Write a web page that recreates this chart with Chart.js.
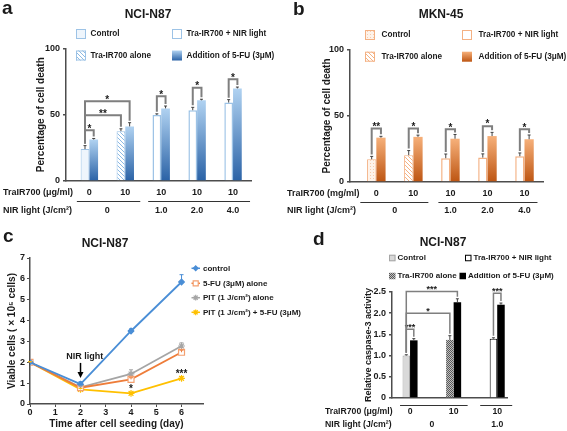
<!DOCTYPE html>
<html>
<head>
<meta charset="utf-8">
<title>Tra-IR700 PIT and 5-FU</title>
<script src="https://cdn.jsdelivr.net/npm/chart.js@4.4.1/dist/chart.umd.min.js"></script>
<style>
  html, body { margin: 0; padding: 0; background: #fff; }
  #fig { position: relative; width: 567px; height: 431px; overflow: hidden; }
  #fig canvas { position: absolute; left: 0; top: 0; }
</style>
</head>
<body>
<div id="fig">
  <canvas id="panelA" width="567" height="431"></canvas>
  <canvas id="panelB" width="567" height="431"></canvas>
  <canvas id="panelC" width="567" height="431"></canvas>
  <canvas id="panelD" width="567" height="431"></canvas>
</div>
<script>
// ---- panel a: NCI-N87, percentage of cell death ----
const doseA = ['0', '10', '10', '10', '10'];
const lightA = ['0', '1.0', '2.0', '4.0'];
const lightGroupsA = [[0, 1], [2, 2], [3, 3], [4, 4]];
const controlA = [24.1, null, null, null, null];
const aloneA = [null, 37.6, null, null, null];
const nirA = [null, null, 49.8, 53.4, 59.2];
const fuA = [31.3, 41.2, 54.8, 60.9, 69.9];
const controlErrA = [2.6, null, null, null, null];
const aloneErrA = [null, 1.8, null, null, null];
const nirErrA = [null, null, 0.9, 2.2, 2.2];
const fuErrA = [0.8, 2.8, 1.8, 0.8, 1.0];

// ---- panel b: MKN-45 ----
const doseB = ['0', '10', '10', '10', '10'];
const lightB = ['0', '1.0', '2.0', '4.0'];
const lightGroupsB = [[0, 1], [2, 2], [3, 3], [4, 4]];
const controlB = [17.2, null, null, null, null];
const aloneB = [null, 20.3, null, null, null];
const nirB = [null, null, 18.0, 18.5, 19.5];
const fuB = [33.6, 34.2, 32.8, 34.8, 32.4];
const controlErrB = [2.2, null, null, null, null];
const aloneErrB = [null, 3.5, null, null, null];
const nirErrB = [null, null, 3.2, 2.8, 2.5];
const fuErrB = [1.0, 1.3, 3.2, 2.8, 3.2];

// ---- panel c: viable cells over time ----
const daysC = [0, 2, 4, 6];
const controlC = [2.0, 0.95, 3.5, 5.85];
const fuC = [2.0, 0.78, 1.18, 2.48];
const pitC = [2.0, 0.8, 1.44, 2.78];
const pitFuC = [2.0, 0.7, 0.51, 1.23];
const controlErrC = [0.03, 0.12, 0.1, 0.35];
const fuErrC = [0.03, 0.04, 0.08, 0.1];
const pitErrC = [0.03, 0.05, 0.2, 0.15];
const pitFuErrC = [0.03, 0.04, 0.05, 0.08];

// ---- panel d: relative caspase-3 activity ----
const doseD = ['0', '10', '10'];
const lightD = ['0', '1.0'];
const lightGroupsD = [[0, 1], [2, 2]];
const controlD = [1.0, null, null];
const aloneD = [null, 1.37, null];
const nirD = [null, null, 1.4];
const fuD = [1.36, 2.26, 2.2];
const controlErrD = [0.02, null, null];
const aloneErrD = [null, 0.1, null];
const nirErrD = [null, null, 0.02];
const fuErrD = [0.04, 0.08, 0.04];

const groupNames = ['Control', 'Tra-IR700 alone', 'Tra-IR700 + NIR light', 'Addition of 5-FU (3μM)'];
const seriesNamesC = ['control', '5-FU (3μM) alone', 'PIT (1 J/cm²) alone', 'PIT (1 J/cm²) + 5-FU (3μM)'];

const FAM = "'Liberation Sans', Arial, Helvetica, sans-serif";
const INK = '#1a1a1a';
const AXIS = '#4d4d4d';
const font = (size) => ({ family: FAM, size: size, weight: 'bold' });

Chart.defaults.font.family = FAM;
Chart.defaults.color = INK;

function label(ctx, str, x, y, size, align, baseline) {
  ctx.font = 'bold ' + size + 'px ' + FAM;
  ctx.fillStyle = INK;
  ctx.textAlign = align || 'left';
  ctx.textBaseline = baseline || 'middle';
  ctx.fillText(str, x, y);
}

// asterisks sit high in the em box, so centre them by hand
function stars(ctx, str, x, yc, size) {
  label(ctx, str, x, yc + size * 0.58, size, 'center', 'alphabetic');
}

function tile(size, paint) {
  const c = document.createElement('canvas');
  c.width = c.height = size;
  const g = c.getContext('2d');
  paint(g, size);
  return g.createPattern(c, 'repeat');
}

function hatch(line, bg) {
  return tile(4, (g, s) => {
    g.fillStyle = bg;
    g.fillRect(0, 0, s, s);
    g.strokeStyle = line;
    g.lineWidth = 1;
    g.beginPath();
    g.moveTo(-1, -1); g.lineTo(s + 1, s + 1);
    g.moveTo(-1, s - 1); g.lineTo(1, s + 1);
    g.moveTo(s - 1, -1); g.lineTo(s + 1, 1);
    g.stroke();
  });
}

function dots(dot, bg) {
  return tile(3, (g, s) => {
    g.fillStyle = bg;
    g.fillRect(0, 0, s, s);
    g.fillStyle = dot;
    g.fillRect(1, 1, 1, 1);
  });
}

function checker(a, b) {
  return tile(2, (g) => {
    g.fillStyle = b;
    g.fillRect(0, 0, 2, 2);
    g.fillStyle = a;
    g.fillRect(0, 0, 1, 1);
    g.fillRect(1, 1, 1, 1);
  });
}

function barGradient(top, bottom) {
  return (c) => {
    const chart = c.chart;
    if (c.raw == null || !chart.chartArea) return bottom;
    const y = chart.scales.y;
    const g = chart.ctx.createLinearGradient(0, y.getPixelForValue(c.raw), 0, y.getPixelForValue(0));
    g.addColorStop(0, top);
    g.addColorStop(1, bottom);
    return g;
  };
}

const blueTheme = {
  fills: ['#eef5fc', hatch('#8dbae4', '#ffffff'), '#ffffff', null],
  borders: ['#9dc3e6', '#9dc3e6', '#9dc3e6', '#2a62a6'],
  widths: [1, 1, 1.5, 0],
  grad: ['#b0d2f1', '#2a62a6']
};
const orangeTheme = {
  fills: [dots('#f8cbad', '#fef3ea'), hatch('#f4b183', '#ffffff'), '#ffffff', null],
  borders: ['#f4b183', '#f4b183', '#f4b183', '#bd5512'],
  widths: [1, 1, 1.5, 0],
  grad: ['#f6b07a', '#bd5512']
};
const greyTheme = {
  fills: ['#d9d9d9', checker('#595959', '#c0c0c0'), '#ffffff', '#000000'],
  borders: ['#a6a6a6', '#7f7f7f', '#000000', '#000000'],
  widths: [1, 0, 1, 0],
  grad: null
};

function barSets(theme, values, errors, catPct) {
  return values.map((vals, k) => {
    const gradient = k === 3 && theme.grad ? theme.grad : null;
    return {
      label: groupNames[k],
      data: vals,
      errors: errors[k],
      gradient: gradient,
      backgroundColor: gradient ? barGradient(gradient[0], gradient[1]) : theme.fills[k],
      borderColor: theme.borders[k],
      borderWidth: theme.widths[k],
      skipNull: true,
      barPercentage: 1,
      categoryPercentage: catPct
    };
  });
}

function barOptions(p) {
  return {
    responsive: false,
    animation: false,
    devicePixelRatio: 1,
    events: [],
    layout: { padding: p.padding },
    scales: {
      x: {
        afterFit: (s) => { s.height = 0; },
        ticks: { display: false },
        grid: { display: false },
        border: { color: AXIS, width: 1.5 }
      },
      y: {
        min: 0,
        max: p.max,
        afterFit: (s) => { s.width = p.yWidth; },
        ticks: { stepSize: p.step, padding: 3, color: INK, font: font(9), callback: p.fmt || ((v) => v) },
        grid: { drawOnChartArea: false, tickLength: 3, color: AXIS, lineWidth: 1.5 },
        border: { color: AXIS, width: 1.5 },
        title: { display: true, text: p.yTitle, color: INK, font: font(p.yTitleSize), padding: 0 }
      }
    },
    plugins: { legend: { display: false }, tooltip: { enabled: false } }
  };
}

function valueOf(raw) {
  return raw !== null && typeof raw === 'object' ? raw.y : raw;
}

function drawErrorBars(chart, o) {
  const ctx = chart.ctx, y = chart.scales.y;
  chart.data.datasets.forEach((ds, di) => {
    if (!ds.errors) return;
    chart.getDatasetMeta(di).data.forEach((el, i) => {
      const v = valueOf(ds.data[i]), e = ds.errors[i];
      if (v == null || !e) return;
      const top = y.getPixelForValue(v + e);
      ctx.save();
      ctx.strokeStyle = ds.errorColor || o.color;
      ctx.lineWidth = o.width;
      ctx.beginPath();
      ctx.moveTo(el.x, el.y);
      ctx.lineTo(el.x, top);
      ctx.moveTo(el.x - o.cap, top);
      ctx.lineTo(el.x + o.cap, top);
      ctx.stroke();
      ctx.restore();
    });
  });
}

function drawBrackets(chart, b) {
  const ctx = chart.ctx, y = chart.scales.y;
  b.items.forEach((it) => {
    const top = y.getPixelForValue(it.level);
    const legs = [it.from, it.to].map(([di, i]) => {
      const ds = chart.data.datasets[di];
      const el = chart.getDatasetMeta(di).data[i];
      const v = ds.data[i] + (ds.errors && ds.errors[i] ? ds.errors[i] : 0);
      return { x: el.x, y: y.getPixelForValue(v) - 2 };
    });
    ctx.save();
    ctx.strokeStyle = '#7f7f7f';
    ctx.lineWidth = b.width;
    ctx.beginPath();
    ctx.moveTo(legs[0].x, legs[0].y);
    ctx.lineTo(legs[0].x, top);
    ctx.lineTo(legs[1].x, top);
    ctx.lineTo(legs[1].x, legs[1].y);
    ctx.stroke();
    stars(ctx, it.text, (legs[0].x + legs[1].x) / 2, top - 4.5, b.size);
    ctx.restore();
  });
}

function drawBarLegend(chart, L) {
  const ctx = chart.ctx;
  L.items.forEach((it) => {
    const ds = chart.data.datasets[it.ds];
    const w = L.box, x0 = it.x, y0 = it.y - w / 2;
    if (ds.gradient) {
      const g = ctx.createLinearGradient(0, y0, 0, y0 + w);
      g.addColorStop(0, ds.gradient[0]);
      g.addColorStop(1, ds.gradient[1]);
      ctx.fillStyle = g;
    } else {
      ctx.fillStyle = ds.backgroundColor;
    }
    ctx.fillRect(x0, y0, w, w);
    if (ds.borderWidth) {
      ctx.strokeStyle = ds.borderColor;
      ctx.lineWidth = 1;
      ctx.strokeRect(x0 + 0.5, y0 + 0.5, w - 1, w - 1);
    }
    label(ctx, ds.label, x0 + w + L.gap, it.y, L.size, 'left');
  });
}

function drawTable(chart, t) {
  const ctx = chart.ctx, x = chart.scales.x;
  const px = (i) => x.getPixelForValue(i);
  t.rows.forEach((r) => {
    label(ctx, r.title, t.titleX, r.y, t.size, 'left');
    r.cells.forEach((c, k) => {
      const span = r.spans ? r.spans[k] : [k, k];
      label(ctx, c, (px(span[0]) + px(span[1])) / 2, r.y, t.size, 'center');
    });
  });
  ctx.strokeStyle = '#333333';
  ctx.lineWidth = 1;
  t.lines.forEach((l) => {
    ctx.beginPath();
    ctx.moveTo(px(l.span[0]) - l.padL, t.lineY + 0.5);
    ctx.lineTo(px(l.span[1]) + l.padR, t.lineY + 0.5);
    ctx.stroke();
  });
}

function drawMarker(ctx, style, x, y, r) {
  ctx.beginPath();
  if (style === 'rectRot') {
    ctx.moveTo(x, y - r); ctx.lineTo(x + r, y); ctx.lineTo(x, y + r); ctx.lineTo(x - r, y);
    ctx.closePath(); ctx.fill(); ctx.stroke();
  } else if (style === 'rect') {
    const h = r * Math.SQRT1_2;
    ctx.rect(x - h, y - h, 2 * h, 2 * h);
    ctx.fill(); ctx.stroke();
  } else {
    for (let k = 0; k < 4; k++) {
      const a = k * Math.PI / 4;
      ctx.moveTo(x - r * Math.cos(a), y - r * Math.sin(a));
      ctx.lineTo(x + r * Math.cos(a), y + r * Math.sin(a));
    }
    ctx.stroke();
  }
}

function panelPlugin(cfg) {
  return {
    id: 'panel' + cfg.id,
    afterLayout(chart) {
      // the bars start a little away from the value axis, as in the original figure
      if (!cfg.shift) return;
      const s = chart.scales.x;
      const a = s.left + cfg.shift[0], b = s.right + cfg.shift[1];
      s._startPixel = a;
      s._endPixel = b;
      s._length = b - a;
    },
    afterDatasetsDraw(chart) {
      if (cfg.errors) drawErrorBars(chart, cfg.errors);
      if (cfg.brackets) drawBrackets(chart, cfg.brackets);
    },
    afterDraw(chart) {
      const ctx = chart.ctx;
      ctx.save();
      (cfg.texts || []).forEach((t) => label(ctx, t.text, t.x, t.y, t.size, t.align, t.baseline));
      if (cfg.legend) drawBarLegend(chart, cfg.legend);
      if (cfg.table) drawTable(chart, cfg.table);
      if (cfg.extra) cfg.extra(chart, ctx);
      ctx.restore();
    }
  };
}

// ---------- panel a ----------
new Chart(document.getElementById('panelA'), {
  type: 'bar',
  data: {
    labels: doseA,
    datasets: barSets(blueTheme, [controlA, aloneA, nirA, fuA],
      [controlErrA, aloneErrA, nirErrA, fuErrA], 0.485)
  },
  options: barOptions({
    padding: { left: 35.7, right: 316, top: 48.5, bottom: 250 },
    max: 100, step: 50, yWidth: 30.3, yTitle: 'Percentage of cell death', yTitleSize: 10
  }),
  plugins: [panelPlugin({
    id: 'A',
    shift: [5.4, 0],
    errors: { color: '#404040', width: 1, cap: 1.5 },
    brackets: { width: 2, size: 10, items: [
      { from: [0, 0], to: [3, 0], level: 38.3, text: '*' },
      { from: [0, 0], to: [1, 1], level: 49.6, text: '**' },
      { from: [0, 0], to: [3, 1], level: 60.2, text: '*' },
      { from: [2, 2], to: [3, 2], level: 64, text: '*' },
      { from: [2, 3], to: [3, 3], level: 70.3, text: '*' },
      { from: [2, 4], to: [3, 4], level: 76.7, text: '*' }
    ] },
    texts: [
      { text: 'a', x: 2, y: 13.5, size: 19, baseline: 'alphabetic' },
      { text: 'NCI-N87', x: 148, y: 15, size: 12, align: 'center' }
    ],
    legend: { box: 10, gap: 4.5, size: 8.2, items: [
      { ds: 0, x: 76, y: 34 }, { ds: 2, x: 172, y: 34 },
      { ds: 1, x: 76, y: 55.5 }, { ds: 3, x: 172, y: 55.5 }
    ] },
    table: {
      titleX: 3, size: 9, lineY: 201,
      rows: [
        { title: 'TraIR700 (μg/ml)', y: 193, cells: doseA },
        { title: 'NIR light (J/cm²)', y: 210.5, cells: lightA, spans: lightGroupsA }
      ],
      lines: [{ span: [0, 1], padL: 12.5, padR: 15 }, { span: [2, 4], padL: 13, padR: 17 }]
    }
  })]
});

// ---------- panel b ----------
new Chart(document.getElementById('panelB'), {
  type: 'bar',
  data: {
    labels: doseB,
    datasets: barSets(orangeTheme, [controlB, aloneB, nirB, fuB],
      [controlErrB, aloneErrB, nirErrB, fuErrB], 0.5)
  },
  options: barOptions({
    padding: { left: 321, right: 24, top: 50, bottom: 249 },
    max: 100, step: 50, yWidth: 29, yTitle: 'Percentage of cell death', yTitleSize: 10
  }),
  plugins: [panelPlugin({
    id: 'B',
    shift: [7.8, 0],
    errors: { color: '#404040', width: 1, cap: 1.5 },
    brackets: { width: 2, size: 10, items: [
      { from: [0, 0], to: [3, 0], level: 40.5, text: '**' },
      { from: [1, 1], to: [3, 1], level: 40.5, text: '*' },
      { from: [2, 2], to: [3, 2], level: 40, text: '*' },
      { from: [2, 3], to: [3, 3], level: 42.3, text: '*' },
      { from: [2, 4], to: [3, 4], level: 40, text: '*' }
    ] },
    texts: [
      { text: 'b', x: 293, y: 15, size: 19, baseline: 'alphabetic' },
      { text: 'MKN-45', x: 441, y: 15, size: 12, align: 'center' }
    ],
    legend: { box: 10, gap: 6.5, size: 8.2, items: [
      { ds: 0, x: 365, y: 35 }, { ds: 2, x: 462, y: 35 },
      { ds: 1, x: 365, y: 56.7 }, { ds: 3, x: 462, y: 56.7 }
    ] },
    table: {
      titleX: 287, size: 9, lineY: 202,
      rows: [
        { title: 'TraIR700 (mg/ml)', y: 194, cells: doseB },
        { title: 'NIR light (J/cm²)', y: 210.7, cells: lightB, spans: lightGroupsB }
      ],
      lines: [{ span: [0, 1], padL: 16, padR: 15 }, { span: [2, 4], padL: 12, padR: 13 }]
    }
  })]
});

// ---------- panel c ----------
const lineSpecs = [
  { values: controlC, errs: controlErrC, color: '#4a8ed6', point: 'rectRot', r: 2.8 },
  { values: fuC, errs: fuErrC, color: '#ee7d3a', point: 'rect', r: 4.2, fill: '#ffffff', edge: '#f3a070' },
  { values: pitC, errs: pitErrC, color: '#a5a5a5', point: 'star', r: 3.4 },
  { values: pitFuC, errs: pitFuErrC, color: '#ffc000', point: 'star', r: 3.4 }
];

new Chart(document.getElementById('panelC'), {
  type: 'line',
  data: {
    datasets: lineSpecs.map((s, k) => ({
      label: seriesNamesC[k],
      data: daysC.map((d, i) => ({ x: d, y: s.values[i] })),
      errors: s.errs,
      errorColor: s.color,
      borderColor: s.color,
      borderWidth: 1.8,
      pointStyle: s.point,
      pointRadius: s.r,
      pointBackgroundColor: s.fill || s.color,
      pointBorderColor: s.edge || s.color,
      pointBorderWidth: 1.2,
      tension: 0
    }))
  },
  options: {
    responsive: false,
    animation: false,
    devicePixelRatio: 1,
    events: [],
    layout: { padding: { left: 6, right: 364, top: 258, bottom: 1 } },
    scales: {
      x: {
        type: 'linear',
        min: 0,
        max: 6.85,
        afterFit: (s) => { s.height = 26; },
        ticks: { stepSize: 1, includeBounds: false, padding: 0, color: INK, font: font(9) },
        grid: { drawOnChartArea: false, tickLength: 3, color: AXIS, lineWidth: 1 },
        border: { color: AXIS, width: 1.5 },
        title: { display: true, text: 'Time after cell seeding (day)', color: INK, font: font(10), padding: 0 }
      },
      y: {
        min: 0,
        max: 7,
        afterFit: (s) => { s.width = 24; },
        ticks: { stepSize: 1, padding: 2, color: INK, font: font(9) },
        grid: { drawOnChartArea: false, tickLength: 3, color: AXIS, lineWidth: 1 },
        border: { color: AXIS, width: 1.5 },
        title: { display: true, text: 'Viable cells ( × 10⁵ cells)', color: INK, font: font(10), padding: 0 }
      }
    },
    plugins: { legend: { display: false }, tooltip: { enabled: false } }
  },
  plugins: [panelPlugin({
    id: 'C',
    errors: { color: '#404040', width: 1, cap: 2 },
    texts: [
      { text: 'c', x: 3, y: 242, size: 19, baseline: 'alphabetic' },
      { text: 'NCI-N87', x: 105, y: 244, size: 12, align: 'center' }
    ],
    extra(chart, ctx) {
      const x = chart.scales.x, y = chart.scales.y;
      // legend at the right of the plot
      const rows = [268.3, 283.3, 297.7, 312.3];
      lineSpecs.forEach((s, k) => {
        ctx.strokeStyle = s.color;
        ctx.lineWidth = 1.5;
        ctx.beginPath();
        ctx.moveTo(191.5, rows[k]);
        ctx.lineTo(200, rows[k]);
        ctx.stroke();
        ctx.fillStyle = s.fill || s.color;
        ctx.strokeStyle = s.edge || s.color;
        ctx.lineWidth = 1.2;
        drawMarker(ctx, s.point, 195.7, rows[k], s.r * 0.85);
        label(ctx, seriesNamesC[k], 203, rows[k], 8, 'left');
      });
      // NIR light arrow on day 2
      const ax = x.getPixelForValue(2);
      const y0 = y.getPixelForValue(1.97), y1 = y.getPixelForValue(1.25);
      ctx.strokeStyle = '#000';
      ctx.fillStyle = '#000';
      ctx.lineWidth = 1.5;
      ctx.beginPath();
      ctx.moveTo(ax, y0);
      ctx.lineTo(ax, y1 - 4);
      ctx.stroke();
      ctx.beginPath();
      ctx.moveTo(ax, y1);
      ctx.lineTo(ax - 3, y1 - 6);
      ctx.lineTo(ax + 3, y1 - 6);
      ctx.closePath();
      ctx.fill();
      label(ctx, 'NIR light', x.getPixelForValue(2.17), y.getPixelForValue(2.3), 9, 'center');
      stars(ctx, '*', x.getPixelForValue(4), y.getPixelForValue(0.83), 10);
      stars(ctx, '***', x.getPixelForValue(6), y.getPixelForValue(1.55), 10);
    }
  })]
});

// ---------- panel d ----------
new Chart(document.getElementById('panelD'), {
  type: 'bar',
  data: {
    labels: doseD,
    datasets: barSets(greyTheme, [controlD, aloneD, nirD, fuD],
      [controlErrD, aloneErrD, nirErrD, fuErrD], 0.345)
  },
  options: barOptions({
    padding: { left: 363, right: 60, top: 292, bottom: 33 },
    max: 2.5, step: 0.5, yWidth: 29, yTitle: 'Relative caspase-3 activity', yTitleSize: 9,
    fmt: (v) => (v === 0 ? '0' : v.toFixed(1))
  }),
  plugins: [panelPlugin({
    id: 'D',
    shift: [-3.75, 12],
    errors: { color: '#404040', width: 1, cap: 1.5 },
    brackets: { width: 1.5, size: 9, items: [
      { from: [0, 0], to: [3, 0], level: 1.62, text: '***' },
      { from: [0, 0], to: [1, 1], level: 2.0, text: '*' },
      { from: [0, 0], to: [3, 1], level: 2.51, text: '***' },
      { from: [2, 2], to: [3, 2], level: 2.47, text: '***' }
    ] },
    texts: [
      { text: 'd', x: 313, y: 245, size: 19, baseline: 'alphabetic' },
      { text: 'NCI-N87', x: 443, y: 243, size: 12, align: 'center' }
    ],
    legend: { box: 6.5, gap: 2, size: 8, items: [
      { ds: 0, x: 389, y: 258 }, { ds: 2, x: 465, y: 258 },
      { ds: 1, x: 389, y: 276 }, { ds: 3, x: 459.5, y: 276 }
    ] },
    table: {
      titleX: 325, size: 8.7, lineY: 405,
      rows: [
        { title: 'TraIR700 (μg/ml)', y: 411.7, cells: doseD },
        { title: 'NIR light (J/cm²)', y: 425, cells: lightD, spans: lightGroupsD }
      ],
      lines: [{ span: [0, 1], padL: 10, padR: 14 }, { span: [2, 2], padL: 17, padR: 15 }]
    }
  })]
});
</script>
</body>
</html>
